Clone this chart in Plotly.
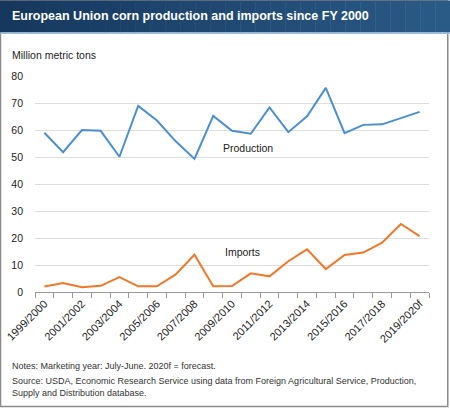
import plotly.graph_objects as go

years = ["1999/2000", "2000/2001", "2001/2002", "2002/2003", "2003/2004", "2004/2005",
         "2005/2006", "2006/2007", "2007/2008", "2008/2009", "2009/2010", "2010/2011",
         "2011/2012", "2012/2013", "2013/2014", "2014/2015", "2015/2016", "2016/2017",
         "2017/2018", "2018/2019", "2019/2020f"]
production = [59.0, 51.8, 60.0, 59.7, 50.1, 68.9, 63.5, 55.8, 49.3, 65.2, 59.7,
              58.6, 68.4, 59.2, 65.1, 75.6, 58.8, 61.9, 62.1, 64.3, 66.7]
imports = [2.0, 3.3, 1.8, 2.3, 5.5, 2.1, 2.1, 6.5, 13.8, 2.1, 2.2,
           6.9, 5.8, 11.4, 15.8, 8.5, 13.7, 14.6, 18.3, 25.2, 20.7]
tick_text = [y if i % 2 == 0 else "" for i, y in enumerate(years)]
y_ticks = [0, 10, 20, 30, 40, 50, 60, 70, 80]

W, H = 450, 409
L, R, T, B = 35, 428.75, 75.7, 292.5
pw, ph = R - L, B - T


def px(x):
    return (x - L) / pw


def py(y):
    return (B - y) / ph


FONT = "Liberation Sans, Arial, sans-serif"

fig = go.Figure()
fig.add_trace(go.Scatter(x=years, y=production, mode="lines",
                         line=dict(color="#4b8fd1", width=2), hoverinfo="skip"))
fig.add_trace(go.Scatter(x=years, y=imports, mode="lines",
                         line=dict(color="#f0782a", width=2), hoverinfo="skip"))

shapes = []
# outer border
shapes.append(dict(type="rect", xref="paper", yref="paper",
                   x0=px(0.5), x1=px(447.5), y0=py(407.5), y1=py(0),
                   line=dict(color="#8a8a8a", width=1.5), fillcolor="rgba(0,0,0,0)", layer="below"))
# title bar gradient
n = 30
c0 = (22, 56, 94)
c1 = (42, 90, 134)
for i in range(n):
    t = i / (n - 1)
    c = tuple(int(round(c0[k] + (c1[k] - c0[k]) * t)) for k in range(3))
    shapes.append(dict(type="rect", xref="paper", yref="paper",
                       x0=px(i * W / n), x1=px((i + 1) * W / n + 0.5),
                       y0=py(32), y1=py(0),
                       line=dict(width=0), fillcolor="rgb(%d,%d,%d)" % c, layer="above"))
shapes.append(dict(type="line", xref="paper", yref="paper",
                   x0=px(0), x1=px(W), y0=py(32.8), y1=py(32.8),
                   line=dict(color="#9dbde0", width=1.5), layer="above"))

annotations = [
    dict(text="European Union corn production and imports since FY 2000", xref="paper", yref="paper",
         x=px(10), y=py(15.5), xanchor="left", yanchor="middle", showarrow=False,
         font=dict(family=FONT, size=12.5, color="white", weight="bold")),
    dict(text="Million metric tons", xref="paper", yref="paper",
         x=px(10), y=py(55), xanchor="left", yanchor="middle", showarrow=False,
         font=dict(family=FONT, size=10.5, color="#222")),
    dict(text="Production", xref="x", yref="y", x=10.85, y=53.3,
         xanchor="center", yanchor="middle", showarrow=False,
         font=dict(family=FONT, size=10.5, color="#222")),
    dict(text="Imports", xref="x", yref="y", x=10.57, y=14.9,
         xanchor="center", yanchor="middle", showarrow=False,
         font=dict(family=FONT, size=10.5, color="#222")),
    dict(text="Notes: Marketing year: July-June. 2020f = forecast.", xref="paper", yref="paper",
         x=px(10), y=py(367), xanchor="left", yanchor="middle", showarrow=False,
         font=dict(family=FONT, size=9, color="#333")),
    dict(text="Source: USDA, Economic Research Service using data from Foreign Agricultural Service, Production,<br>Supply and Distribution database.",
         xref="paper", yref="paper", align="left",
         x=px(10), y=py(375), xanchor="left", yanchor="top", showarrow=False,
         font=dict(family=FONT, size=9, color="#333")),
]

fig.update_layout(
    width=W, height=H,
    margin=dict(l=L, r=W - R, t=T, b=H - B, pad=0),
    paper_bgcolor="white", plot_bgcolor="white",
    showlegend=False,
    shapes=shapes, annotations=annotations,
    font=dict(family=FONT, size=11, color="#222"),
    xaxis=dict(type="category", tickmode="array", tickvals=years, ticktext=tick_text,
               tickson="boundaries", ticks="outside", ticklen=5, tickcolor="#999", tickwidth=1,
               showline=True, linecolor="#999", linewidth=1, showgrid=False,
               tickangle=-45, tickfont=dict(family=FONT, size=11, color="#222"),
               range=[-0.5, 20.5], fixedrange=True, automargin=False),
    yaxis=dict(range=[0, 80], tickvals=y_ticks, showgrid=True, gridcolor="#dedede", gridwidth=1,
               zeroline=False, showline=False, ticks="", ticklabelstandoff=11,
               tickfont=dict(family=FONT, size=10.5, color="#222"), fixedrange=True,
               automargin=False),
)

fig.write_html("out.html", config={"displayModeBar": False, "staticPlot": True},
               post_script="document.body.style.margin='0';document.body.style.overflow='hidden';")
